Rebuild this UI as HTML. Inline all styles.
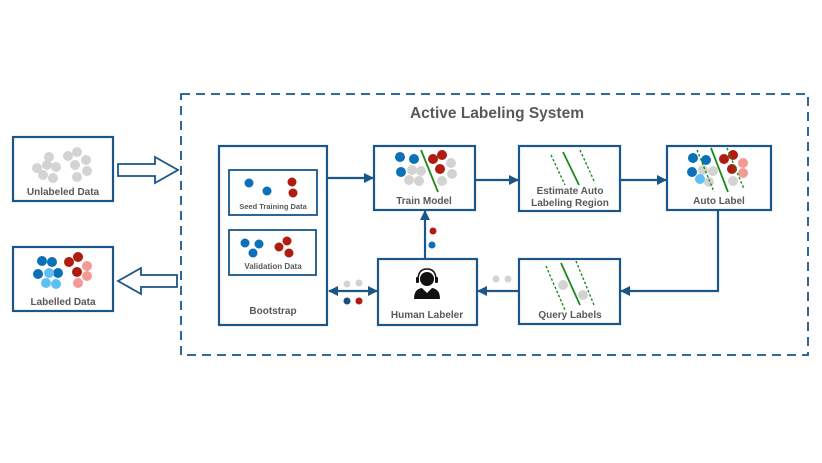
<!DOCTYPE html>
<html><head><style>
html,body{margin:0;padding:0;background:#fff;}
svg{display:block;}
text{font-family:"Liberation Sans",sans-serif;fill:#595959;font-weight:bold;}
</style></head><body>
<svg width="822" height="463" viewBox="0 0 822 463" xmlns="http://www.w3.org/2000/svg">
<defs>
<marker id="ah" markerWidth="10" markerHeight="10" refX="9" refY="5" orient="auto" markerUnits="userSpaceOnUse"><path d="M0,0 L10,5 L0,10 Z" fill="#1a5687"/></marker>
<marker id="ahs" markerWidth="10" markerHeight="10" refX="1" refY="5" orient="auto" markerUnits="userSpaceOnUse"><path d="M10,0 L0,5 L10,10 Z" fill="#1a5687"/></marker>
</defs>
<g fill="none" stroke="#1a5687" stroke-width="2.2">
<rect x="181" y="94" width="627" height="261" stroke-dasharray="9,6" stroke-width="1.8"/>
<rect x="13" y="137" width="100" height="64"/>
<rect x="13" y="247" width="100" height="64"/>
<rect x="219" y="146" width="108" height="179"/>
<rect x="229" y="170" width="88" height="45" stroke-width="1.8"/>
<rect x="229" y="230" width="87" height="45" stroke-width="1.8"/>
<rect x="374" y="146" width="101" height="64"/>
<rect x="519" y="146" width="101" height="65"/>
<rect x="667" y="146" width="104" height="64"/>
<rect x="378" y="259" width="99" height="66"/>
<rect x="519" y="259" width="101" height="65"/>
<path d="M118,164 H155 V157 L178,170 L155,183 V176 H118 Z" stroke-width="1.8"/>
<path d="M177,275 H141 V268 L118,281 L141,294 V287 H177 Z" stroke-width="1.8"/>
<line x1="327" y1="178" x2="373" y2="178" marker-end="url(#ah)"/>
<line x1="475" y1="180" x2="518" y2="180" marker-end="url(#ah)"/>
<line x1="620" y1="180" x2="666" y2="180" marker-end="url(#ah)"/>
<polyline points="718,210 718,291 621,291" marker-end="url(#ah)"/>
<line x1="519" y1="291" x2="478" y2="291" marker-end="url(#ah)"/>
<line x1="425" y1="259" x2="425" y2="211" marker-end="url(#ah)"/>
<line x1="329" y1="291" x2="377" y2="291" marker-end="url(#ah)" marker-start="url(#ahs)"/>
</g>
<text x="497" y="118" text-anchor="middle" font-size="15.5">Active Labeling System</text>
<g font-size="10" text-anchor="middle">
<text x="63" y="195">Unlabeled Data</text>
<text x="63" y="305">Labelled Data</text>
<text x="273" y="314">Bootstrap</text>
<text x="273" y="209" font-size="7.5">Seed Training Data</text>
<text x="273" y="269" font-size="8">Validation Data</text>
<text x="424" y="204">Train Model</text>
<text x="570" y="194">Estimate Auto</text>
<text x="570" y="206">Labeling Region</text>
<text x="719" y="204">Auto Label</text>
<text x="427" y="318">Human Labeler</text>
<text x="570" y="318">Query Labels</text>
</g>
<g fill="#d3d3d3">
<circle cx="37" cy="168" r="5"/><circle cx="49" cy="157" r="5"/><circle cx="47" cy="165" r="5"/><circle cx="56" cy="167" r="5"/><circle cx="43" cy="175" r="5"/><circle cx="53" cy="178" r="5"/>
<circle cx="68" cy="156" r="5"/><circle cx="77" cy="152" r="5"/><circle cx="86" cy="160" r="5"/><circle cx="75" cy="165" r="5"/><circle cx="87" cy="171" r="5"/><circle cx="77" cy="177" r="5"/>
<circle cx="412" cy="170" r="5"/><circle cx="421" cy="171" r="5"/><circle cx="409" cy="180" r="5"/><circle cx="419" cy="181" r="5"/>
<circle cx="451" cy="163" r="5"/><circle cx="452" cy="174" r="5"/><circle cx="442" cy="181" r="5"/>
<circle cx="703" cy="170" r="5"/><circle cx="713" cy="171" r="5"/><circle cx="709" cy="182" r="5"/><circle cx="733" cy="181" r="5"/>
<circle cx="563" cy="285" r="5"/><circle cx="583" cy="295" r="5"/>
<circle cx="496" cy="279" r="3.5"/><circle cx="508" cy="279" r="3.5"/>
<circle cx="347" cy="284" r="3.5"/><circle cx="359" cy="283" r="3.5"/>
</g>
<g fill="#0a70b8">
<circle cx="42" cy="261" r="5"/><circle cx="52" cy="262" r="5"/><circle cx="38" cy="274" r="5"/><circle cx="58" cy="273" r="5"/>
<circle cx="249" cy="183" r="4.5"/><circle cx="267" cy="191" r="4.5"/>
<circle cx="245" cy="243" r="4.5"/><circle cx="259" cy="244" r="4.5"/><circle cx="253" cy="253" r="4.5"/>
<circle cx="400" cy="157" r="5"/><circle cx="414" cy="159" r="5"/><circle cx="401" cy="172" r="5"/>
<circle cx="693" cy="158" r="5"/><circle cx="706" cy="160" r="5"/><circle cx="692" cy="172" r="5"/>
<circle cx="432" cy="245" r="3.5"/>
</g>
<g fill="#1a4f7a"><circle cx="347" cy="301" r="3.5"/></g>
<g fill="#5ec0f2">
<circle cx="49" cy="273" r="5"/><circle cx="46" cy="283" r="5"/><circle cx="56" cy="284" r="5"/><circle cx="700" cy="179" r="5"/>
</g>
<g fill="#b01c10">
<circle cx="78" cy="257" r="5"/><circle cx="69" cy="262" r="5"/><circle cx="77" cy="272" r="5"/>
<circle cx="292" cy="182" r="4.5"/><circle cx="293" cy="193" r="4.5"/>
<circle cx="279" cy="247" r="4.5"/><circle cx="287" cy="241" r="4.5"/><circle cx="289" cy="253" r="4.5"/>
<circle cx="433" cy="159" r="5"/><circle cx="442" cy="155" r="5"/><circle cx="440" cy="169" r="5"/>
<circle cx="724" cy="159" r="5"/><circle cx="733" cy="155" r="5"/><circle cx="732" cy="169" r="5"/>
<circle cx="433" cy="231" r="3.5"/><circle cx="359" cy="301" r="3.5"/>
</g>
<g fill="#f49a94">
<circle cx="87" cy="266" r="5"/><circle cx="87" cy="276" r="5"/><circle cx="78" cy="283" r="5"/>
<circle cx="743" cy="163" r="5"/><circle cx="743" cy="173" r="5"/>
</g>
<g stroke="#1e8a1e" stroke-width="1.8">
<line x1="421" y1="150" x2="438" y2="192"/>
<line x1="563" y1="152" x2="579" y2="185"/>
<line x1="711" y1="148" x2="728" y2="192"/>
<line x1="561" y1="263" x2="580" y2="305"/>
</g>
<g stroke="#1e8a1e" stroke-width="1.4" stroke-dasharray="2.5,2">
<line x1="551" y1="155" x2="565" y2="185"/><line x1="580" y1="150" x2="595" y2="183"/>
<line x1="697" y1="150" x2="714" y2="192"/><line x1="727" y1="148" x2="744" y2="189"/>
<line x1="546" y1="266" x2="565" y2="310"/><line x1="576" y1="261" x2="594" y2="305"/>
</g>
<g fill="#111">
<circle cx="427" cy="279" r="7"/>
<path d="M414,299 Q414,289 422,288 L427,293 L432,288 Q440,289 440,299 Z"/>
<path d="M418,280 Q418,269 427,269 Q436,269 436,280" fill="none" stroke="#111" stroke-width="1.5"/>
<rect x="416" y="277" width="3" height="6" rx="1"/><rect x="435" y="277" width="3" height="6" rx="1"/>
</g>
</svg>
</body></html>
